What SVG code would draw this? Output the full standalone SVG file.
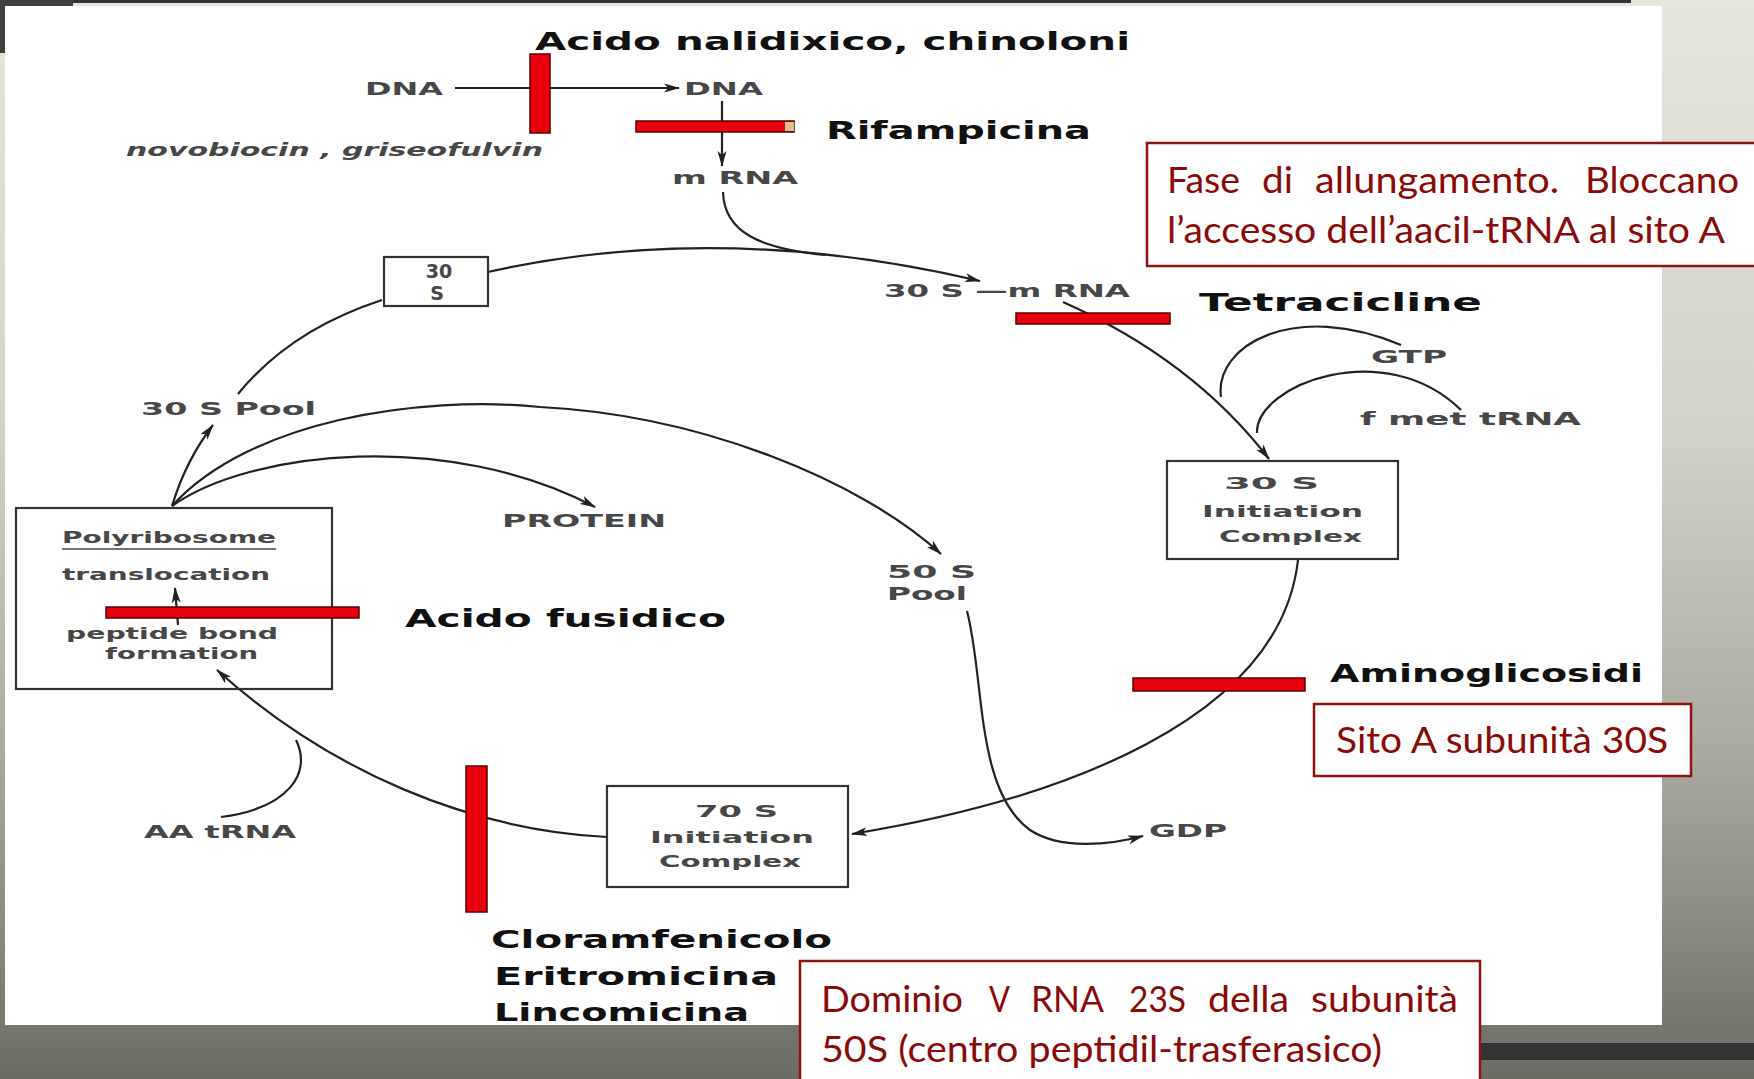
<svg xmlns="http://www.w3.org/2000/svg" width="1754" height="1079" viewBox="0 0 1754 1079">
  <defs>
    <linearGradient id="slideBg" x1="0" y1="0" x2="0" y2="1">
      <stop offset="0" stop-color="#e6e6db"/>
      <stop offset="0.4" stop-color="#d2d2c8"/>
      <stop offset="0.7" stop-color="#a9a9a0"/>
      <stop offset="0.85" stop-color="#8c8c84"/>
      <stop offset="1" stop-color="#6c6c65"/>
    </linearGradient>
    <marker id="arrow" markerUnits="userSpaceOnUse" markerWidth="16" markerHeight="10" refX="15" refY="5" orient="auto">
      <path d="M0,0.5 L16,5 L0,9.5 L4,5 Z" fill="#222"/>
    </marker>
    <style>
      .ln { fill: none; stroke: #222; stroke-width: 2.2; }
      .box { fill: none; stroke: #333; stroke-width: 2.2; }
      .bar { fill: #e8000c; stroke: #5a0000; stroke-width: 1.5; }
      .lbl { font-family: "DejaVu Sans", "Liberation Sans", sans-serif; font-weight: bold; fill: #474747; }
      .drug { font-family: "DejaVu Sans", "Liberation Sans", sans-serif; font-weight: bold; fill: #111; }
      .note { font-family: Lato, "Open Sans", sans-serif; fill: #8b0a0a; font-size: 37px; }
      .callout { fill: #fff; stroke: #8e1414; stroke-width: 2.5; }
    </style>
  </defs>

  <!-- slide background -->
  <rect x="0" y="0" width="1754" height="1079" fill="url(#slideBg)"/>
  <rect x="0" y="0" width="73" height="53" fill="#404040"/>
  <rect x="73" y="0" width="1558" height="3" fill="#333"/>
  <rect x="1400" y="1043" width="354" height="17" fill="#333"/>
  <rect x="5" y="6" width="1657" height="1019" fill="#fff"/>

  <!-- connectors -->
  <g id="connectors">
    <path class="ln" d="M455,88 L679,88" marker-end="url(#arrow)"/>
    <path class="ln" d="M722,101 L722,166" marker-end="url(#arrow)"/>
    <path class="ln" d="M723,192 C724,232 760,249 826,255"/>
    <path class="ln" d="M488,272 Q720,220 980,281" marker-end="url(#arrow)"/>
    <path class="ln" d="M1063,302 Q1193,360 1269,459" marker-end="url(#arrow)"/>
    <path class="ln" d="M1221,397 C1214,345 1295,300 1401,345"/>
    <path class="ln" d="M1257,433 C1255,385 1385,335 1461,410"/>
    <path class="ln" d="M1298,560 C1280,720 1060,800 852,834" marker-end="url(#arrow)"/>
    <path class="ln" d="M607,837 C470,830 330,772 217,670" marker-end="url(#arrow)"/>
    <path class="ln" d="M296,740 C312,772 290,808 221,817"/>
    <path class="ln" d="M967,611 C985,680 975,790 1030,830 C1060,850 1110,845 1143,836" marker-end="url(#arrow)"/>
    <path class="ln" d="M382,300 Q290,330 238,394"/>
    <path class="ln" d="M172,506 Q186,460 213,425" marker-end="url(#arrow)"/>
    <path class="ln" d="M172,506 C250,420 420,395 540,407 C700,415 860,480 941,554" marker-end="url(#arrow)"/>
    <path class="ln" d="M172,506 C250,450 450,430 595,507" marker-end="url(#arrow)"/>
    <path class="ln" d="M178,625 L175,588" marker-end="url(#arrow)"/>
  </g>

  <!-- nodes -->
  <g id="node-30S">
    <rect class="box" x="384" y="257" width="104" height="49"/>
    <text class="lbl" x="439" y="278" font-size="19" text-anchor="middle">30</text>
    <text class="lbl" x="437" y="300" font-size="19" text-anchor="middle">S</text>
  </g>
  <g id="node-30S-initiation">
    <rect class="box" x="1167" y="461" width="231" height="98"/>
    <text class="lbl" x="1224" y="489" font-size="16" textLength="95" lengthAdjust="spacingAndGlyphs">30 S</text>
    <text class="lbl" x="1202" y="517" font-size="16" textLength="161" lengthAdjust="spacingAndGlyphs">Initiation</text>
    <text class="lbl" x="1219" y="542" font-size="16" textLength="143" lengthAdjust="spacingAndGlyphs">Complex</text>
  </g>
  <g id="node-70S-initiation">
    <rect class="box" x="607" y="786" width="241" height="101"/>
    <text class="lbl" x="695" y="817" font-size="16" textLength="83" lengthAdjust="spacingAndGlyphs">70 S</text>
    <text class="lbl" x="650" y="843" font-size="16" textLength="164" lengthAdjust="spacingAndGlyphs">Initiation</text>
    <text class="lbl" x="659" y="867" font-size="16" textLength="142" lengthAdjust="spacingAndGlyphs">Complex</text>
  </g>
  <g id="node-polyribosome">
    <rect class="box" x="16" y="508" width="316" height="181"/>
    <text class="lbl" x="62" y="543" font-size="16" textLength="214" lengthAdjust="spacingAndGlyphs">Polyribosome</text>
    <line x1="62" y1="549" x2="276" y2="549" stroke="#444" stroke-width="1.5"/>
    <text class="lbl" x="62" y="580" font-size="16" textLength="208" lengthAdjust="spacingAndGlyphs">translocation</text>
    <text class="lbl" x="66" y="639" font-size="16" textLength="212" lengthAdjust="spacingAndGlyphs">peptide bond</text>
    <text class="lbl" x="105" y="659" font-size="16" textLength="153" lengthAdjust="spacingAndGlyphs">formation</text>
  </g>

  <!-- free labels -->
  <g id="labels">
    <text class="lbl" x="365" y="95" font-size="17" textLength="78" lengthAdjust="spacingAndGlyphs">DNA</text>
    <text class="lbl" x="684" y="95" font-size="17" textLength="79" lengthAdjust="spacingAndGlyphs">DNA</text>
    <text class="lbl" x="126" y="156" font-size="17" font-style="italic" textLength="417" lengthAdjust="spacingAndGlyphs">novobiocin , griseofulvin</text>
    <text class="lbl" x="672" y="184" font-size="17" textLength="126" lengthAdjust="spacingAndGlyphs">m RNA</text>
    <text class="lbl" x="884" y="297" font-size="18" textLength="246" lengthAdjust="spacingAndGlyphs">30 S —m RNA</text>
    <text class="lbl" x="1371" y="363" font-size="17" textLength="76" lengthAdjust="spacingAndGlyphs">GTP</text>
    <text class="lbl" x="1360" y="425" font-size="17" textLength="221" lengthAdjust="spacingAndGlyphs">f met  tRNA</text>
    <text class="lbl" x="141" y="415" font-size="17" textLength="175" lengthAdjust="spacingAndGlyphs">30 S  Pool</text>
    <text class="lbl" x="502" y="527" font-size="17" textLength="164" lengthAdjust="spacingAndGlyphs">PROTEIN</text>
    <text class="lbl" x="887" y="578" font-size="17" textLength="89" lengthAdjust="spacingAndGlyphs">50 S</text>
    <text class="lbl" x="887" y="600" font-size="17" textLength="80" lengthAdjust="spacingAndGlyphs">Pool</text>
    <text class="lbl" x="144" y="838" font-size="17" textLength="152" lengthAdjust="spacingAndGlyphs">AA tRNA</text>
    <text class="lbl" x="1149" y="837" font-size="17" textLength="78" lengthAdjust="spacingAndGlyphs">GDP</text>
  </g>

  <!-- inhibitor bars -->
  <g id="inhibitors">
    <rect class="bar" x="530" y="54" width="20" height="79"/>
    <rect class="bar" x="636" y="121" width="158" height="11"/>
    <rect x="785" y="122" width="9" height="9" fill="#d9c38a"/>
    <rect class="bar" x="1016" y="313" width="154" height="11"/>
    <rect class="bar" x="1133" y="678" width="172" height="13"/>
    <rect class="bar" x="106" y="607" width="253" height="11"/>
    <rect class="bar" x="466" y="766" width="21" height="146"/>
  </g>

  <!-- drug names -->
  <g id="drugs">
    <text class="drug" x="535" y="50" font-size="25" textLength="595" lengthAdjust="spacingAndGlyphs">Acido nalidixico, chinoloni</text>
    <text class="drug" x="826" y="139" font-size="25" textLength="265" lengthAdjust="spacingAndGlyphs">Rifampicina</text>
    <text class="drug" x="1199" y="311" font-size="25" textLength="283" lengthAdjust="spacingAndGlyphs">Tetracicline</text>
    <text class="drug" x="1330" y="682" font-size="25" textLength="313" lengthAdjust="spacingAndGlyphs">Aminoglicosidi</text>
    <text class="drug" x="405" y="627" font-size="25" textLength="321" lengthAdjust="spacingAndGlyphs">Acido  fusidico</text>
    <text class="drug" x="491" y="948" font-size="25" textLength="341" lengthAdjust="spacingAndGlyphs">Cloramfenicolo</text>
    <text class="drug" x="494" y="985" font-size="25" textLength="284" lengthAdjust="spacingAndGlyphs">Eritromicina</text>
    <text class="drug" x="494" y="1021" font-size="25" textLength="255" lengthAdjust="spacingAndGlyphs">Lincomicina</text>
  </g>

  <!-- callouts -->
  <g id="note-elongation">
    <rect class="callout" x="1147" y="143" width="640" height="123"/>
    <text class="note" x="1167" y="193" textLength="73" lengthAdjust="spacingAndGlyphs">Fase</text>
    <text class="note" x="1262" y="193" textLength="31" lengthAdjust="spacingAndGlyphs">di</text>
    <text class="note" x="1315" y="193" textLength="244" lengthAdjust="spacingAndGlyphs">allungamento.</text>
    <text class="note" x="1585" y="193" textLength="154" lengthAdjust="spacingAndGlyphs">Bloccano</text>
    <text class="note" x="1167" y="243" textLength="558" lengthAdjust="spacingAndGlyphs">l’accesso dell’aacil-tRNA al sito A</text>
  </g>
  <g id="note-site-a">
    <rect class="callout" x="1314" y="704" width="377" height="72"/>
    <text class="note" x="1336" y="753" textLength="332" lengthAdjust="spacingAndGlyphs">Sito A subunità 30S</text>
  </g>
  <g id="note-domain-v">
    <rect class="callout" x="800" y="961" width="680" height="140"/>
    <text class="note" x="821" y="1012" textLength="142" lengthAdjust="spacingAndGlyphs">Dominio</text>
    <text class="note" x="989" y="1012" textLength="21" lengthAdjust="spacingAndGlyphs">V</text>
    <text class="note" x="1031" y="1012" textLength="73" lengthAdjust="spacingAndGlyphs">RNA</text>
    <text class="note" x="1129" y="1012" textLength="57" lengthAdjust="spacingAndGlyphs">23S</text>
    <text class="note" x="1208" y="1012" textLength="81" lengthAdjust="spacingAndGlyphs">della</text>
    <text class="note" x="1311" y="1012" textLength="147" lengthAdjust="spacingAndGlyphs">subunità</text>
    <text class="note" x="821" y="1062" textLength="561" lengthAdjust="spacingAndGlyphs">50S (centro peptidil-trasferasico)</text>
  </g>
</svg>
